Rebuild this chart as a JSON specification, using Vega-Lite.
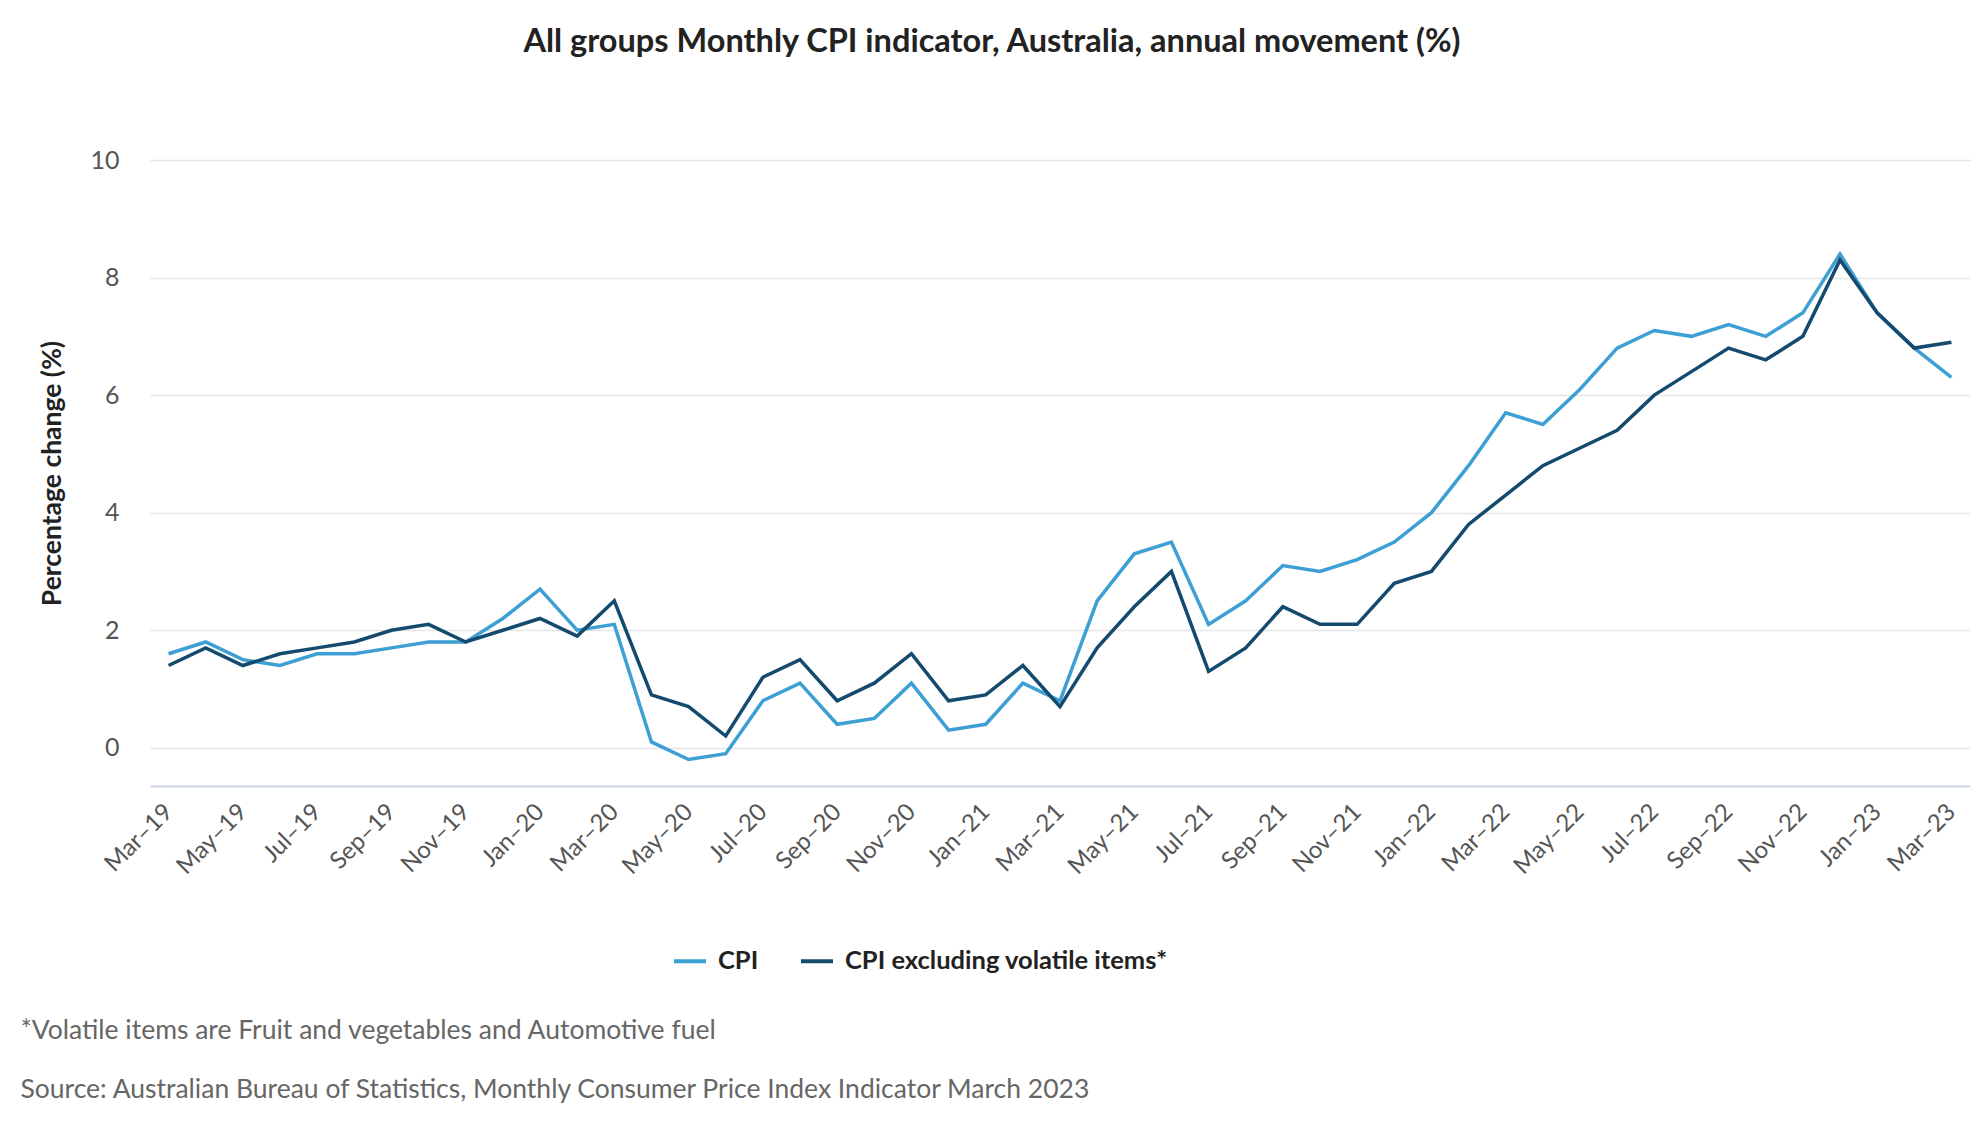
{
  "$schema": "https://vega.github.io/schema/vega-lite/v6.json",
  "autosize": {"type": "none"},
  "width": 1820,
  "height": 626,
  "padding": {"left": 150, "top": 160, "right": 10, "bottom": 354},
  "background": "white",
  "title": {
    "text": "All groups Monthly CPI indicator, Australia, annual movement (%)",
    "anchor": "middle",
    "frame": "group",
    "dx": -68,
    "offset": 90,
    "font": "Lato",
    "fontSize": 32.5,
    "fontWeight": "bold",
    "color": "#222222"
  },
  "config": {
    "view": {"stroke": null},
    "font": "Lato"
  },
  "data": {
    "values": [
      {"month": "Mar–19", "CPI": 1.6, "CPI excluding volatile items*": 1.4},
      {"month": "Apr–19", "CPI": 1.8, "CPI excluding volatile items*": 1.7},
      {"month": "May–19", "CPI": 1.5, "CPI excluding volatile items*": 1.4},
      {"month": "Jun–19", "CPI": 1.4, "CPI excluding volatile items*": 1.6},
      {"month": "Jul–19", "CPI": 1.6, "CPI excluding volatile items*": 1.7},
      {"month": "Aug–19", "CPI": 1.6, "CPI excluding volatile items*": 1.8},
      {"month": "Sep–19", "CPI": 1.7, "CPI excluding volatile items*": 2.0},
      {"month": "Oct–19", "CPI": 1.8, "CPI excluding volatile items*": 2.1},
      {"month": "Nov–19", "CPI": 1.8, "CPI excluding volatile items*": 1.8},
      {"month": "Dec–19", "CPI": 2.2, "CPI excluding volatile items*": 2.0},
      {"month": "Jan–20", "CPI": 2.7, "CPI excluding volatile items*": 2.2},
      {"month": "Feb–20", "CPI": 2.0, "CPI excluding volatile items*": 1.9},
      {"month": "Mar–20", "CPI": 2.1, "CPI excluding volatile items*": 2.5},
      {"month": "Apr–20", "CPI": 0.1, "CPI excluding volatile items*": 0.9},
      {"month": "May–20", "CPI": -0.2, "CPI excluding volatile items*": 0.7},
      {"month": "Jun–20", "CPI": -0.1, "CPI excluding volatile items*": 0.2},
      {"month": "Jul–20", "CPI": 0.8, "CPI excluding volatile items*": 1.2},
      {"month": "Aug–20", "CPI": 1.1, "CPI excluding volatile items*": 1.5},
      {"month": "Sep–20", "CPI": 0.4, "CPI excluding volatile items*": 0.8},
      {"month": "Oct–20", "CPI": 0.5, "CPI excluding volatile items*": 1.1},
      {"month": "Nov–20", "CPI": 1.1, "CPI excluding volatile items*": 1.6},
      {"month": "Dec–20", "CPI": 0.3, "CPI excluding volatile items*": 0.8},
      {"month": "Jan–21", "CPI": 0.4, "CPI excluding volatile items*": 0.9},
      {"month": "Feb–21", "CPI": 1.1, "CPI excluding volatile items*": 1.4},
      {"month": "Mar–21", "CPI": 0.8, "CPI excluding volatile items*": 0.7},
      {"month": "Apr–21", "CPI": 2.5, "CPI excluding volatile items*": 1.7},
      {"month": "May–21", "CPI": 3.3, "CPI excluding volatile items*": 2.4},
      {"month": "Jun–21", "CPI": 3.5, "CPI excluding volatile items*": 3.0},
      {"month": "Jul–21", "CPI": 2.1, "CPI excluding volatile items*": 1.3},
      {"month": "Aug–21", "CPI": 2.5, "CPI excluding volatile items*": 1.7},
      {"month": "Sep–21", "CPI": 3.1, "CPI excluding volatile items*": 2.4},
      {"month": "Oct–21", "CPI": 3.0, "CPI excluding volatile items*": 2.1},
      {"month": "Nov–21", "CPI": 3.2, "CPI excluding volatile items*": 2.1},
      {"month": "Dec–21", "CPI": 3.5, "CPI excluding volatile items*": 2.8},
      {"month": "Jan–22", "CPI": 4.0, "CPI excluding volatile items*": 3.0},
      {"month": "Feb–22", "CPI": 4.8, "CPI excluding volatile items*": 3.8},
      {"month": "Mar–22", "CPI": 5.7, "CPI excluding volatile items*": 4.3},
      {"month": "Apr–22", "CPI": 5.5, "CPI excluding volatile items*": 4.8},
      {"month": "May–22", "CPI": 6.1, "CPI excluding volatile items*": 5.1},
      {"month": "Jun–22", "CPI": 6.8, "CPI excluding volatile items*": 5.4},
      {"month": "Jul–22", "CPI": 7.1, "CPI excluding volatile items*": 6.0},
      {"month": "Aug–22", "CPI": 7.0, "CPI excluding volatile items*": 6.4},
      {"month": "Sep–22", "CPI": 7.2, "CPI excluding volatile items*": 6.8},
      {"month": "Oct–22", "CPI": 7.0, "CPI excluding volatile items*": 6.6},
      {"month": "Nov–22", "CPI": 7.4, "CPI excluding volatile items*": 7.0},
      {"month": "Dec–22", "CPI": 8.4, "CPI excluding volatile items*": 8.3},
      {"month": "Jan–23", "CPI": 7.4, "CPI excluding volatile items*": 7.4},
      {"month": "Feb–23", "CPI": 6.8, "CPI excluding volatile items*": 6.8},
      {"month": "Mar–23", "CPI": 6.3, "CPI excluding volatile items*": 6.9}
    ]
  },
  "transform": [
    {"fold": ["CPI", "CPI excluding volatile items*"], "as": ["series", "value"]}
  ],
  "mark": {"type": "line", "strokeWidth": 3.5, "strokeJoin": "miter"},
  "encoding": {
    "x": {
      "field": "month",
      "type": "ordinal",
      "sort": null,
      "scale": {"type": "point", "padding": 0.5},
      "axis": {
        "values": ["Mar–19","May–19","Jul–19","Sep–19","Nov–19","Jan–20","Mar–20","May–20","Jul–20","Sep–20","Nov–20","Jan–21","Mar–21","May–21","Jul–21","Sep–21","Nov–21","Jan–22","Mar–22","May–22","Jul–22","Sep–22","Nov–22","Jan–23","Mar–23"],
        "labelAngle": -45,
        "labelAlign": "right",
        "labelBaseline": "middle",
        "labelPadding": 22,
        "labelFont": "Lato",
        "labelFontSize": 24,
        "labelColor": "#555555",
        "ticks": false,
        "grid": false,
        "domainColor": "#ccd6eb",
        "domainWidth": 2,
        "title": ["*Volatile items are Fruit and vegetables and Automotive fuel", "Source: Australian Bureau of Statistics, Monthly Consumer Price Index Indicator March 2023"],
        "titleX": -130,
        "titleY": 244,
        "titleAlign": "left",
        "titleAnchor": "start",
        "titleBaseline": "middle",
        "titleLineHeight": 59,
        "titleFont": "Lato",
        "titleFontSize": 26.5,
        "titleFontWeight": "normal",
        "titleColor": "#666666"
      }
    },
    "y": {
      "field": "value",
      "type": "quantitative",
      "scale": {"domain": [-0.65, 10], "nice": false, "zero": false},
      "axis": {
        "values": [0, 2, 4, 6, 8, 10],
        "title": "Percentage change (%)",
        "titleFont": "Lato",
        "titleFontSize": 26.5,
        "titleFontWeight": "bold",
        "titleColor": "#222222",
        "titleX": -98,
        "titleBaseline": "middle",
        "labelFont": "Lato",
        "labelFontSize": 25,
        "labelColor": "#555555",
        "labelPadding": 31,
        "ticks": false,
        "domain": false,
        "gridColor": "#e6e6e6",
        "gridWidth": 1.5
      }
    },
    "color": {
      "field": "series",
      "type": "nominal",
      "scale": {"domain": ["CPI", "CPI excluding volatile items*"], "range": ["#3d9fd4", "#154a6f"]},
      "legend": {
        "title": null,
        "orient": "none",
        "direction": "horizontal",
        "legendX": 522,
        "legendY": 783,
        "symbolType": "stroke",
        "symbolSize": 1024,
        "symbolStrokeWidth": 4,
        "labelFont": "Lato",
        "labelFontSize": 25.5,
        "labelFontWeight": "bold",
        "labelColor": "#222222",
        "labelOffset": 10,
        "labelLimit": 0,
        "columnPadding": 34
      }
    }
  }
}
